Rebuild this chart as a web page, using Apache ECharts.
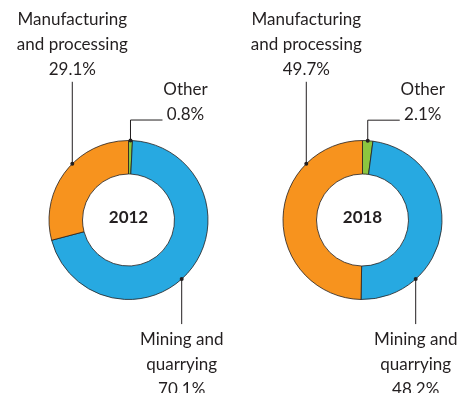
<!DOCTYPE html>
<html lang="en">
<head>
<meta charset="UTF-8" />
<script src="https://cdn.jsdelivr.net/npm/echarts@6/dist/echarts.min.js"></script>
<style>
  html, body { margin: 0; overflow: hidden; background: #fff; }
  #viewport { position: absolute; left: 0; top: 0; right: 0; bottom: 0; }
</style>
</head>
<body>
<div id="viewport"></div>
<script>
// data
var years = ['2012', '2018'];
var categories = ['Other', 'Mining and quarrying', 'Manufacturing and processing'];
var labelNames = ['Other', 'Mining and\nquarrying', 'Manufacturing\nand processing'];
var share2012 = [0.8, 70.1, 29.1];
var share2018 = [2.1, 48.2, 49.7];
var shares = [share2012, share2018];

// look
var colors = ['#8cc63f', '#27a9e1', '#f7931e'];
var centers = [[128.5, 220], [362.5, 220]];
var radius = [46, 79.5];
var ink = '#231f20';
// where the leader leaves the ring (deg clockwise from 12 o'clock), null = slice middle
var leaderAngle = [null, 138, 315];

function dotPos(si, di) {
  var values = shares[si];
  var a = leaderAngle[di];
  if (a == null) {
    var total = 0, before = 0;
    values.forEach(function (v, i) {
      total += v;
      if (i < di) before += v;
    });
    a = (before + values[di] / 2) / total * 360;
  }
  var rad = a * Math.PI / 180;
  var c = centers[si];
  return [c[0] + Math.sin(rad) * radius[1], c[1] - Math.cos(rad) * radius[1]];
}

function makeLayout(si) {
  return function (params) {
    var p = dotPos(si, params.dataIndex);
    var x = p[0], y = p[1];
    if (params.dataIndex === 0) {
      return {
        x: x + 55, y: y - 14, align: 'center', verticalAlign: 'bottom',
        labelLinePoints: [[x, y], [x, y - 20.5], [x + 32, y - 20.5]]
      };
    }
    if (params.dataIndex === 1) {
      return {
        x: x, y: y + 47.5, align: 'center', verticalAlign: 'top',
        labelLinePoints: [[x, y], [x, y + 45], [x, y + 45]]
      };
    }
    return {
      x: x, y: y - 82, align: 'center', verticalAlign: 'bottom',
      labelLinePoints: [[x, y], [x, y - 82], [x, y - 82]]
    };
  };
}

var series = years.map(function (yr, si) {
  return {
    type: 'pie',
    center: centers[si],
    radius: radius,
    startAngle: 90,
    clockwise: true,
    avoidLabelOverlap: false,
    silent: true,
    itemStyle: { borderColor: ink, borderWidth: 0.8 },
    label: {
      show: true,
      position: 'outside',
      color: ink,
      fontFamily: 'Lato',
      fontSize: 17,
      lineHeight: 25,
      align: 'center',
      formatter: function (p) {
        return labelNames[p.dataIndex] + '\n' + p.value + '%';
      }
    },
    labelLine: { show: true, lineStyle: { color: ink, width: 1 } },
    labelLayout: makeLayout(si),
    data: categories.map(function (name, i) {
      return { name: name, value: shares[si][i], itemStyle: { color: colors[i] } };
    })
  };
});

var dots = [];
years.forEach(function (yr, si) {
  categories.forEach(function (name, di) {
    var p = dotPos(si, di);
    dots.push({
      type: 'circle',
      shape: { cx: p[0], cy: p[1], r: 2 },
      style: { fill: ink },
      z: 100
    });
  });
});

var option = {
  animation: false,
  backgroundColor: '#fff',
  title: years.map(function (yr, si) {
    return {
      text: yr,
      left: centers[si][0],
      top: centers[si][1] - 11,
      textAlign: 'center',
      padding: 0,
      textStyle: { fontFamily: 'Lato', fontSize: 17, fontWeight: 'bold', color: ink }
    };
  }),
  graphic: dots,
  series: series
};

var myChart = echarts.init(document.getElementById('viewport'));
myChart.setOption(option);
</script>
</body>
</html>
